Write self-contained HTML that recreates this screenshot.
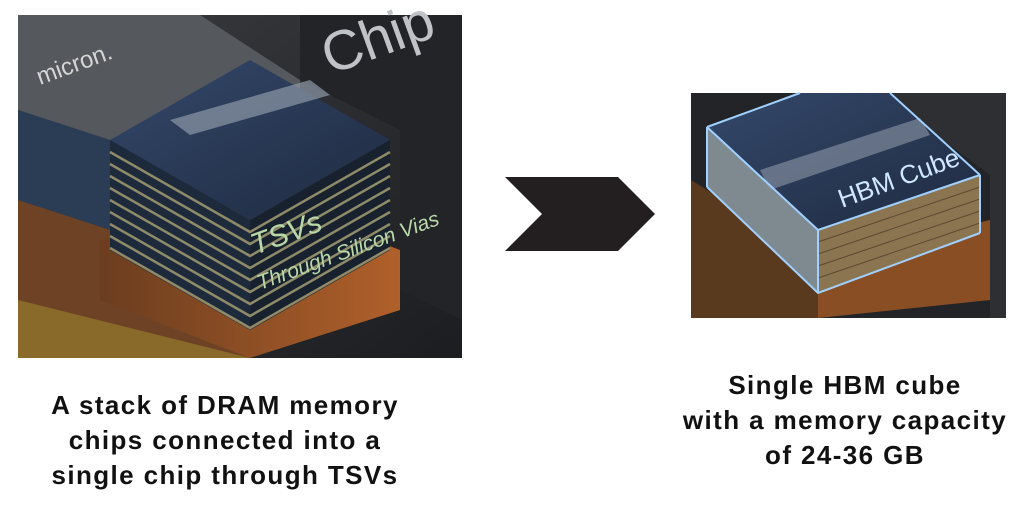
<!DOCTYPE html>
<html><head><meta charset="utf-8"><style>
html,body{margin:0;padding:0;background:#fff;width:1024px;height:508px;overflow:hidden;position:relative;font-family:"Liberation Sans",sans-serif}
.t{position:absolute;text-align:center;font-weight:bold;font-size:26px;letter-spacing:1.4px;line-height:35px;color:#111}
</style></head><body>
<svg width="1024" height="508" style="position:absolute;left:0;top:0">
<defs>
<linearGradient id="bg1" x1="0" y1="0" x2="1" y2="1"><stop offset="0" stop-color="#3a3c40"/><stop offset="1" stop-color="#1c1d20"/></linearGradient>
<linearGradient id="cu" x1="0" y1="0" x2="1" y2="0"><stop offset="0" stop-color="#6b3d1f"/><stop offset="1" stop-color="#b0602a"/></linearGradient>
<linearGradient id="top" x1="0" y1="0" x2="1" y2="1"><stop offset="0" stop-color="#34486a"/><stop offset="1" stop-color="#1e2a40"/></linearGradient>
</defs>
<rect x="18" y="15" width="444" height="343" fill="url(#bg1)"/>
<polygon points="18,15 200,15 300,80 300,200 110,140 18,110" fill="#55585c"/>
<polygon points="18,110 110,140 110,230 18,200" fill="#2b3d55"/>
<polygon points="300,15 462,15 462,320 400,290 400,130 300,80" fill="#232427"/>
<text x="330" y="75" fill="#bfc2c6" font-size="56" font-family="Liberation Sans" transform="rotate(-20 330 75)">Chip</text>
<text x="40" y="85" fill="#d5d5d5" font-size="24" font-family="Liberation Sans" transform="rotate(-20 40 85)">micron.</text>
<polygon points="18,200 110,230 250,300 250,358 18,358" fill="#6e4224"/>
<polygon points="18,300 250,358 18,358" fill="#8a6a2a"/>
<polygon points="100,240 270,200 400,250 400,310 250,358 100,300" fill="url(#cu)"/>
<g>
<polygon points="110,140 250,60 390,140 250,220" fill="url(#top)"/>
<polygon points="110,140 250,220 250,330 110,250" fill="#1d2a3c"/>
<polygon points="250,220 390,140 390,250 250,330" fill="#18222f"/>
<g stroke="#8f8a68" stroke-width="2.5" fill="none">
<polyline points="110,152 250,232 390,152"/><polyline points="110,164 250,244 390,164"/>
<polyline points="110,176 250,256 390,176"/><polyline points="110,188 250,268 390,188"/>
<polyline points="110,200 250,280 390,200"/><polyline points="110,212 250,292 390,212"/>
<polyline points="110,224 250,304 390,224"/><polyline points="110,236 250,316 390,236"/>
<polyline points="110,248 250,328 390,248"/>
</g>
<polygon points="170,120 310,80 330,95 190,135" fill="#8d98a6" opacity="0.7"/>
</g>
<text x="255" y="255" fill="#b9d8a8" font-size="30" font-style="italic" font-family="Liberation Sans" transform="rotate(-20 255 255)">TSVs</text>
<text x="260" y="290" fill="#b9d8a8" font-size="21" font-style="italic" font-family="Liberation Sans" transform="rotate(-20 260 290)">Through Silicon Vias</text>
<polygon points="505,177 618,177 655,214 618,251 505,251 542,214" fill="#231f20"/>
<rect x="691" y="93" width="315" height="225" fill="#232427"/>
<polygon points="880,93 1006,93 1006,318 990,318 990,175" fill="#2e2f33"/>
<polygon points="691,180 818,260 818,318 691,318" fill="#5a3a1e"/>
<polygon points="818,260 990,220 990,300 818,318" fill="#8a4e24"/>
<polygon points="707,127 800,93 890,93 980,175 818,230" fill="url(#top)"/>
<polygon points="707,127 818,230 818,293 707,187" fill="#7f8a90"/>
<polygon points="818,230 980,175 980,233 818,293" fill="#8b7550"/>
<g stroke="#5a4a30" stroke-width="1"><line x1="818" y1="242" x2="980" y2="187"/><line x1="818" y1="254" x2="980" y2="199"/><line x1="818" y1="266" x2="980" y2="211"/><line x1="818" y1="278" x2="980" y2="223"/></g>
<polygon points="760,170 920,118 930,135 770,190" fill="#8d98a6" opacity="0.6"/>
<g stroke="#9fd0ff" stroke-width="2" fill="none"><polyline points="707,127 818,230 980,175"/><line x1="818" y1="230" x2="818" y2="293"/><line x1="980" y1="175" x2="980" y2="233"/><line x1="707" y1="127" x2="707" y2="187"/><polyline points="707,187 818,293 980,233"/><line x1="707" y1="127" x2="800" y2="93"/><line x1="890" y1="93" x2="980" y2="175"/></g>
<text x="842" y="208" fill="#cfe8ff" font-size="26" font-family="Liberation Sans" transform="rotate(-20 842 208)">HBM Cube</text>
</svg>
<div class="t" style="left:0;width:450px;top:388px">A stack of DRAM memory<br>chips connected into a<br>single chip through TSVs</div>
<div class="t" style="left:660px;width:370px;top:368px">Single HBM cube<br>with a memory capacity<br>of 24-36 GB</div>
</body></html>
